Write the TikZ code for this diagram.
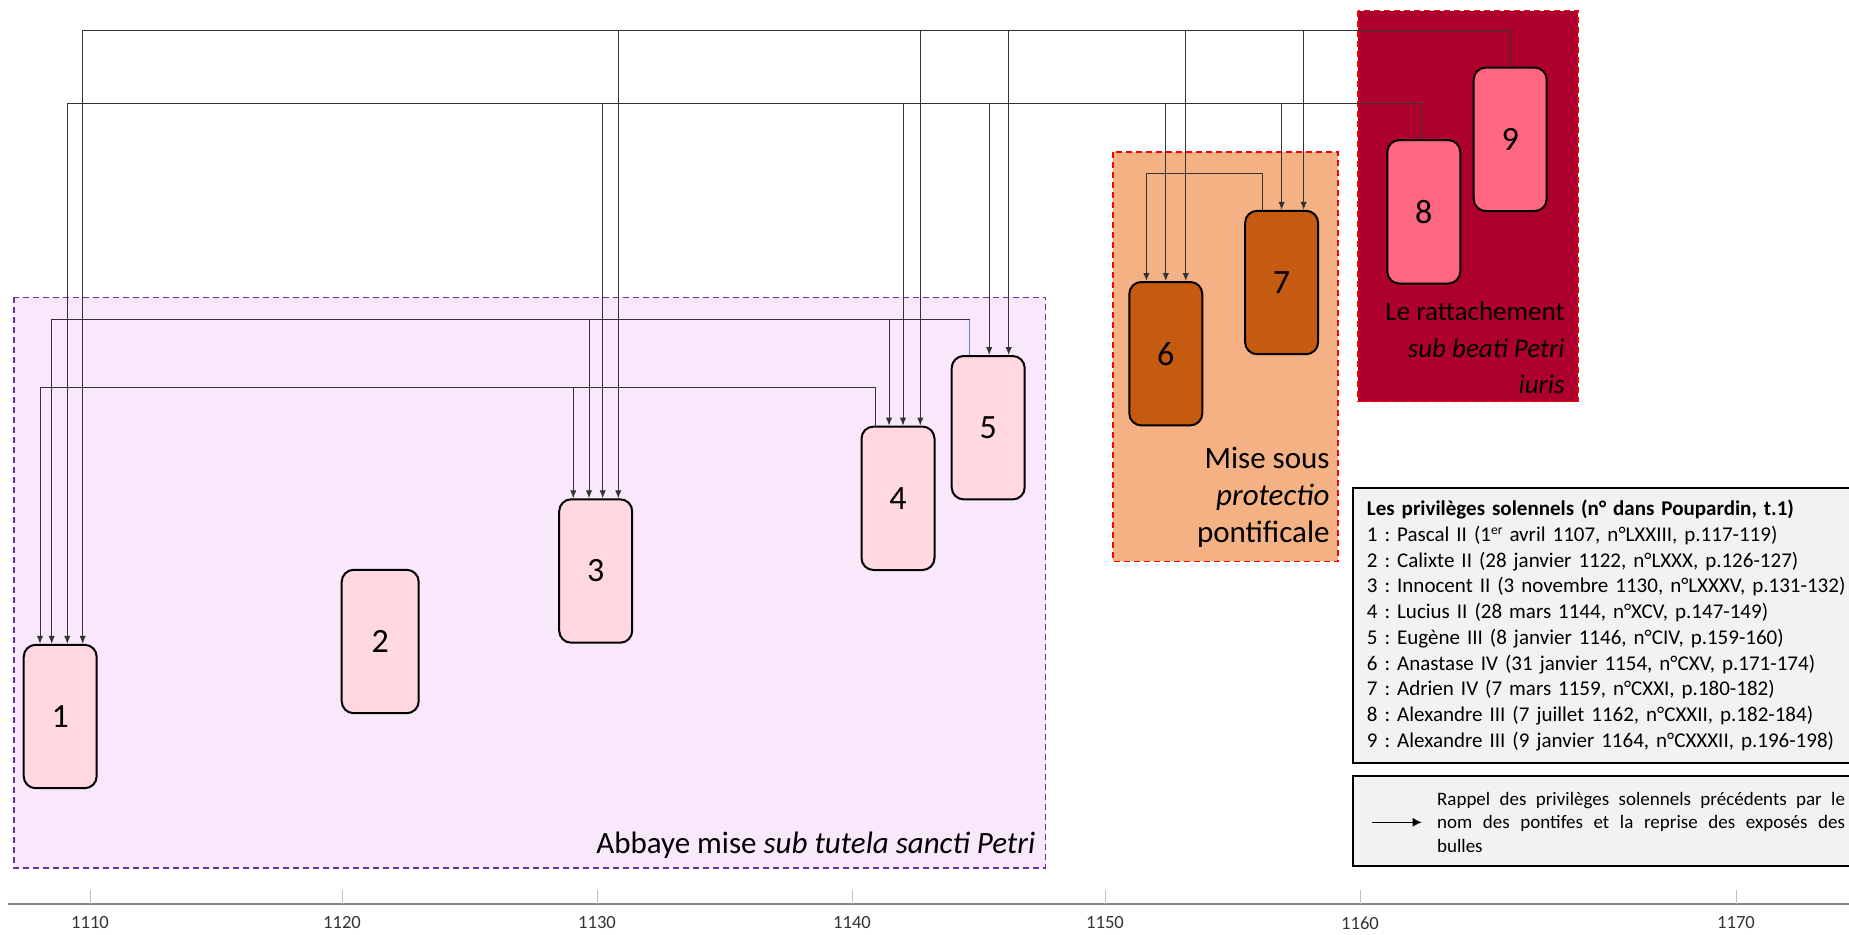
\documentclass[tikz,border=0pt]{standalone}
\usepackage{fontspec}
\setmainfont{Carlito}
\usepackage{xcolor}
\usetikzlibrary{arrows.meta,calc}
\definecolor{abbaye}{HTML}{F9E8FC}
\definecolor{abbayeline}{HTML}{7030A0}
\definecolor{bulrose}{HTML}{FFD8E2}
\definecolor{protec}{HTML}{F4B183}
\definecolor{brique}{HTML}{C55A11}
\definecolor{rattach}{HTML}{AD002D}
\definecolor{framboise}{HTML}{FF6680}
\definecolor{zonered}{HTML}{FF0000}
\definecolor{legfond}{HTML}{F2F2F2}
\definecolor{bk80}{HTML}{333333}
\definecolor{axegris}{HTML}{888888}
\definecolor{tickgris}{HTML}{BFBFBF}
\definecolor{lienbleu}{HTML}{4A90D9}
\newcommand{\expo}[1]{\raisebox{3.3pt}{\fontsize{6.8pt}{7pt}\selectfont #1}}
\frenchspacing
\tikzset{
  bulle/.style={
    rectangle, rounded corners=6pt, draw=black, line width=1pt, fill=#1,
    minimum width=36.5pt, minimum height=71.7pt, inner sep=0pt,
    font=\fontsize{17pt}{20pt}\selectfont
  },
  bulle/.default=bulrose,
  zone/.style={
    draw=#1, line width=0.75pt, dash pattern=on 3pt off 2pt
  },
  zone/.default=zonered,
  zonelabel/.style={
    inner sep=0pt, align=right, font=\fontsize{15.5pt}{18.5pt}\selectfont
  },
  renvoi/.style={
    -{Latex[length=4pt,width=3.2pt]}, line width=0.5pt, color=#1
  },
  renvoi/.default=bk80,
  legende/.style={
    rectangle, draw=black, line width=0.9pt, fill=legfond,
    inner xsep=7pt, inner ysep=6pt, align=left,
    font=\fontsize{10.5pt}{12.85pt}\selectfont
  },
  axe/.style={draw=axegris, line width=1pt},
  graduation/.style={draw=tickgris, line width=0.5pt},
  annee/.style={font=\fontsize{9.3pt}{11pt}\selectfont, color=bk80, inner sep=0pt},
}
\begin{document}
\begin{tikzpicture}[x=0.5pt, y=-0.5pt]
  \useasboundingbox (0,0) rectangle (1849,934);
  % zones
  \draw[zone=abbayeline, fill=abbaye] (14,297.3) rectangle (1045.6,868);
  \draw[zone, fill=protec] (1112.8,152) rectangle (1338,561.3);
  \draw[zone, fill=rattach] (1358,10.7) rectangle (1578,401.7);
  \node[zonelabel, anchor=east] (labbaye) at (1035.5,845) {Abbaye mise \textit{sub tutela sancti Petri}};
  \node[zonelabel, anchor=east] (lprotec) at (1330,497.6) {Mise sous\\\textit{protectio}\\pontificale};
  \node[zonelabel, anchor=east, font=\fontsize{13.5pt}{18.3pt}\selectfont] (lrattach) at (1565,347.8)
    {Le rattachement\\\textit{sub beati Petri}\\\textit{iuris}};
  % bulles
  \node[bulle] (b1) at (60.2,716.5) {1};
  \node[bulle, minimum width=38.5pt] (b2) at (380.2,641.5) {2};
  \node[bulle] (b3) at (595.7,571) {3};
  \node[bulle] (b4) at (898,498.3) {4};
  \node[bulle] (b5) at (988.2,427.7) {5};
  \node[bulle=brique] (b6) at (1165.8,353.7) {6};
  \node[bulle=brique] (b7) at (1281.6,282.5) {7};
  \node[bulle=framboise] (b8) at (1423.8,211.8) {8};
  \node[bulle=framboise] (b9) at (1510.2,139.3) {9};
  % niveaux des renvois
  \coordinate (railA) at (0,30.3);
  \coordinate (railB) at (0,103.3);
  \coordinate (railE) at (0,173.7);
  \coordinate (railC) at (0,319);
  \coordinate (railD) at (0,387.7);
  % renvois de 9
  \foreach \cible/\dx in {b1/11.25pt,b3/11.3pt,b4/11.15pt,b5/10.25pt,b6/10pt,b7/11pt}
    \draw[renvoi] (b9.north) |- ([xshift=\dx]\cible.north |- railA) -- ([xshift=\dx]\cible.north);
  % renvois de 8
  \foreach \cible/\dx in {b1/3.55pt,b3/3.5pt,b4/2.5pt,b5/0.5pt,b6/0pt,b7/0pt}
    \draw[renvoi] ([xshift=-1.4pt]b8.north) |- ([xshift=\dx]\cible.north |- railB) -- ([xshift=\dx]\cible.north);
  % renvoi de 7
  \draw[renvoi] ([xshift=-9.7pt]b7.north) |- ([xshift=-9.7pt]b6.north |- railE) -- ([xshift=-9.7pt]b6.north);
  % renvois de 5
  \draw[lienbleu, line width=0.5pt] ([xshift=-9.25pt]b5.north) -- ([xshift=-9.25pt]b5.north |- railC);
  \foreach \cible/\dx in {b1/-4.25pt,b3/-3.35pt,b4/-4.5pt}
    \draw[renvoi] ([xshift=-9.25pt]b5.north |- railC) -| ([xshift=\dx]\cible.north);
  % renvois de 4
  \foreach \cible/\dx in {b1/-10.1pt,b3/-11.2pt}
    \draw[renvoi] ([xshift=-11.35pt]b4.north) |- ([xshift=\dx]\cible.north |- railD) -- ([xshift=\dx]\cible.north);
  % frise
  \draw[axe] (8,903.5) -- (1849,903.5);
  \foreach \an/\xx in {1110/90,1120/342,1130/597,1140/852,1150/1105,1160/1360,1170/1736} {
    \draw[graduation] (\xx,890) -- (\xx,903.5);
    \node[annee] (a\an) at (\xx,923) {\an};
  }
  % legende
  \node[legende, text width=257pt, anchor=north west] (leg1) at (1352,487.3) {%
    \textbf{Les privilèges solennels (n° dans Poupardin, t.1)}\\
    1 : Pascal II (1\expo{er} avril 1107, n°LXXIII, p.117-119)\\
    2 : Calixte II (28 janvier 1122, n°LXXX, p.126-127)\\
    3 : Innocent II (3 novembre 1130, n°LXXXV, p.131-132)\\
    4 : Lucius II (28 mars 1144, n°XCV, p.147-149)\\
    5 : Eugène III (8 janvier 1146, n°CIV, p.159-160)\\
    6 : Anastase IV (31 janvier 1154, n°CXV, p.171-174)\\
    7 : Adrien IV (7 mars 1159, n°CXXI, p.180-182)\\
    8 : Alexandre III (7 juillet 1162, n°CXXII, p.182-184)\\
    9 : Alexandre III (9 janvier 1164, n°CXXXII, p.196-198)};
  \node[legende, minimum width=260pt, minimum height=44.85pt, anchor=north west] (leg2) at (1352,775.3) {};
  \node[inner sep=0pt, text width=204pt, align=justify, anchor=west,
        font=\fontsize{9.5pt}{11.75pt}\selectfont] (leg2txt) at (1436.7,822.3)
    {Rappel des privilèges solennels précédents par le\linebreak
     nom des pontifes et la reprise des exposés des\linebreak bulles};
  \coordinate (legA) at (1371.7,822.3);
  \coordinate (legB) at (1421.7,822.3);
  \draw[-{Latex[length=4.5pt,width=4.5pt]}, line width=0.6pt] (legA) -- (legB);
\end{tikzpicture}
\end{document}
